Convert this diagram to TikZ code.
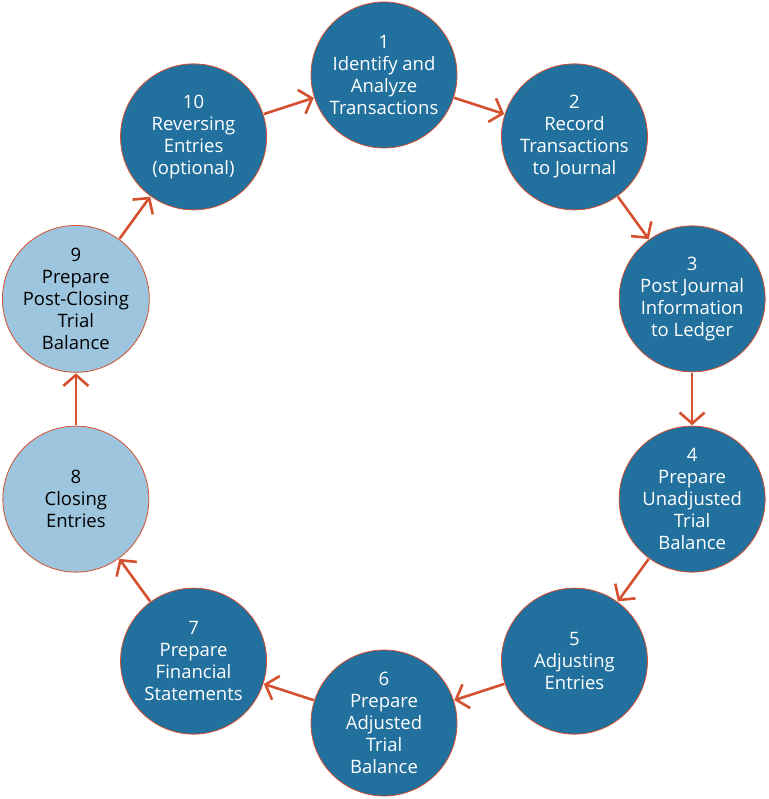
\documentclass[tikz,border=0pt]{standalone}
\usepackage{fontspec}
\setmainfont{Open Sans}
\usetikzlibrary{arrows.meta}
\definecolor{dblue}{HTML}{22709D}
\definecolor{lblue}{HTML}{9DC5DE}
\definecolor{arr}{HTML}{D4502F}
\tikzset{
  stepc/.style={circle, minimum size=146pt, inner sep=0pt, draw=arr, line width=0.8pt, align=center, font=\fontsize{18.5}{22}\selectfont},
  darkc/.style={stepc, fill=dblue, text=white},
  lightc/.style={stepc, fill=lblue, text=black},
  flow/.style={draw=arr, line width=2.6pt, -{Straight Barb[length=11pt,width=25pt,line width=2.6pt]}, shorten <=0.5pt, shorten >=0.5pt}
}
\begin{document}
\begin{tikzpicture}[x=1pt,y=1pt]
\useasboundingbox (0,0) rectangle (768,-799);
\def\cx{384}\def\cy{-399}\def\R{324}
\node[darkc] (n1) at ({\cx+\R*cos(90)},{\cy+\R*sin(90)}) {1\\Identify and\\Analyze\\Transactions};
\node[darkc] (n2) at ({\cx+\R*cos(54)},{\cy+\R*sin(54)}) {2\\Record\\Transactions\\to Journal};
\node[darkc] (n3) at ({\cx+\R*cos(18)},{\cy+\R*sin(18)}) {3\\Post Journal\\Information\\to Ledger};
\node[darkc] (n4) at ({\cx+\R*cos(-18)},{\cy+\R*sin(-18)}) {4\\Prepare\\Unadjusted\\Trial\\Balance};
\node[darkc] (n5) at ({\cx+\R*cos(-54)},{\cy+\R*sin(-54)}) {5\\Adjusting\\Entries};
\node[darkc] (n6) at ({\cx+\R*cos(-90)},{\cy+\R*sin(-90)}) {6\\Prepare\\Adjusted\\Trial\\Balance};
\node[darkc] (n7) at ({\cx+\R*cos(-126)},{\cy+\R*sin(-126)}) {7\\Prepare\\Financial\\Statements};
\node[lightc] (n8) at ({\cx+\R*cos(-162)},{\cy+\R*sin(-162)}) {8\\Closing\\Entries};
\node[lightc] (n9) at ({\cx+\R*cos(162)},{\cy+\R*sin(162)}) {9\\Prepare\\Post-Closing\\Trial\\Balance};
\node[darkc] (n10) at ({\cx+\R*cos(126)},{\cy+\R*sin(126)}) {10\\Reversing\\Entries\\(optional)};
\draw[flow] (n1) -- (n2);
\draw[flow] (n2) -- (n3);
\draw[flow] (n3) -- (n4);
\draw[flow] (n4) -- (n5);
\draw[flow] (n5) -- (n6);
\draw[flow] (n6) -- (n7);
\draw[flow] (n7) -- (n8);
\draw[flow] (n8) -- (n9);
\draw[flow] (n9) -- (n10);
\draw[flow] (n10) -- (n1);
\end{tikzpicture}
\end{document}
